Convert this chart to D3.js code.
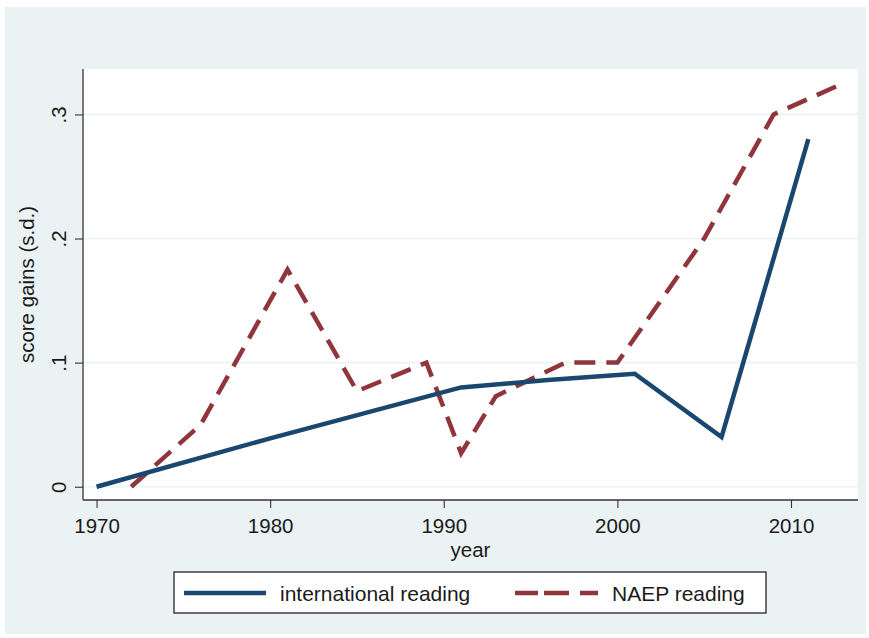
<!DOCTYPE html>
<html><head><meta charset="utf-8">
<script src="https://cdn.jsdelivr.net/npm/d3@7"></script>
<style>
html,body{margin:0;padding:0;background:#fff;}
text{font-family:"Liberation Sans",Arial,sans-serif;fill:#1a1a1a;}
</style></head>
<body>
<svg id="chart" width="869" height="638"></svg>
<script>
// ---- data ----
const intlYears  = [1970, 1980, 1991, 1996, 2001, 2006, 2011];
const intlValues = [0, 0.039, 0.080, 0.086, 0.091, 0.040, 0.280];
const naepYears  = [1972, 1976, 1981, 1985, 1989, 1991, 1993, 1997, 2000, 2005, 2009, 2013];
const naepValues = [0, 0.050, 0.175, 0.077, 0.100, 0.027, 0.073, 0.100, 0.100, 0.200, 0.300, 0.325];
const xTicks = [1970, 1980, 1990, 2000, 2010];
const yTicks = [0, 0.1, 0.2, 0.3];
const yTickLabels = ["0", ".1", ".2", ".3"];
const seriesNames = ["international reading", "NAEP reading"];

const svg = d3.select("#chart");
const W = 869, H = 638;
const plot = {left: 83, right: 858, top: 69, bottom: 500};

svg.append("rect").attr("x", 0).attr("y", 0).attr("width", W).attr("height", H).attr("fill", "#fff");
svg.append("rect").attr("x", 5).attr("y", 7).attr("width", 861).attr("height", 627).attr("fill", "#EAF2F3");
svg.append("rect").attr("x", plot.left).attr("y", plot.top)
  .attr("width", plot.right - plot.left).attr("height", plot.bottom - plot.top).attr("fill", "#fff");

const x = d3.scaleLinear().domain([1969.22, 2013.86]).range([plot.left, plot.right]);
const y = d3.scaleLinear().domain([-0.0107, 0.3366]).range([plot.bottom, plot.top]);

// gridlines
svg.append("g").selectAll("line").data(yTicks).join("line")
  .attr("x1", plot.left).attr("x2", plot.right)
  .attr("y1", d => y(d)).attr("y2", d => y(d))
  .attr("stroke", "#EAF2F3").attr("stroke-width", 1.6);

// axes
const xAxis = d3.axisBottom(x).tickValues(xTicks).tickFormat(d3.format("d")).tickSize(8).tickPadding(10);
const gx = svg.append("g").attr("transform", `translate(0,${plot.bottom})`).call(xAxis);
gx.select(".domain").attr("d", `M${plot.left},0H${plot.right}`).attr("stroke", "#333").attr("stroke-width", 1.3);
gx.selectAll(".tick line").attr("stroke", "#333").attr("stroke-width", 1.1);
gx.selectAll(".tick text").attr("font-size", 20.5).attr("fill", "#1a1a1a")
  .style("font-family", '"Liberation Sans",Arial,sans-serif');

const yAxis = d3.axisLeft(y).tickValues(yTicks).tickFormat((d, i) => yTickLabels[i]).tickSize(8).tickPadding(0);
const gy = svg.append("g").attr("transform", `translate(${plot.left},0)`).call(yAxis);
gy.select(".domain").attr("d", `M0,${plot.top}V${plot.bottom}`).attr("stroke", "#333").attr("stroke-width", 1.3);
gy.selectAll(".tick line").attr("stroke", "#333").attr("stroke-width", 1.1);
gy.selectAll(".tick text")
  .attr("x", null).attr("dy", null)
  .attr("text-anchor", "middle")
  .attr("transform", "translate(-17,0) rotate(-90)")
  .attr("font-size", 20.5).attr("fill", "#1a1a1a")
  .style("font-family", '"Liberation Sans",Arial,sans-serif');

// axis titles
svg.append("text").attr("x", (plot.left + plot.right) / 2).attr("y", 557)
  .attr("text-anchor", "middle").attr("font-size", 20.5).text("year");
svg.append("text").attr("transform", `translate(34,${(plot.top + plot.bottom) / 2}) rotate(-90)`)
  .attr("text-anchor", "middle").attr("font-size", 20.5).text("score gains (s.d.)");

// lines
const line = d3.line().x(d => x(d[0])).y(d => y(d[1]));
const intlData = intlYears.map((yr, i) => [yr, intlValues[i]]);
const naepData = naepYears.map((yr, i) => [yr, naepValues[i]]);

svg.append("path").datum(naepData).attr("d", line)
  .attr("fill", "none").attr("stroke", "#90353B").attr("stroke-width", 4.5)
  .attr("stroke-dasharray", "21,11").attr("stroke-linejoin", "miter");
svg.append("path").datum(intlData).attr("d", line)
  .attr("fill", "none").attr("stroke", "#1A476F").attr("stroke-width", 4.5)
  .attr("stroke-linejoin", "miter");

// legend
const lg = svg.append("g");
lg.append("rect").attr("x", 174).attr("y", 572).attr("width", 592).attr("height", 41)
  .attr("fill", "#fff").attr("stroke", "#111").attr("stroke-width", 1.2);
lg.append("line").attr("x1", 184).attr("x2", 266).attr("y1", 593).attr("y2", 593)
  .attr("stroke", "#1A476F").attr("stroke-width", 4.5);
lg.append("text").attr("x", 280).attr("y", 601).attr("font-size", 21).text(seriesNames[0]);
lg.append("line").attr("x1", 515).attr("x2", 598).attr("y1", 593).attr("y2", 593)
  .attr("stroke", "#90353B").attr("stroke-width", 4.5).attr("stroke-dasharray", "23,6,25,11,18");
lg.append("text").attr("x", 612).attr("y", 601).attr("font-size", 21).text(seriesNames[1]);
</script>
</body></html>
